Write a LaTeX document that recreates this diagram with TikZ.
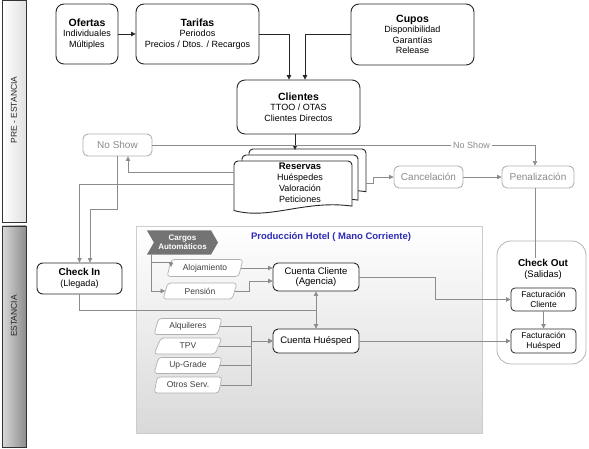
\documentclass[tikz,border=0pt]{standalone}
\usepackage{fontspec}
\setmainfont{Liberation Sans}
\usetikzlibrary{arrows.meta,shapes.geometric,shapes.symbols,calc}

\definecolor{lineGray}{HTML}{8C8C8C}
\definecolor{boxGray}{HTML}{B0B0B0}
\definecolor{txtGray}{HTML}{8A8A8A}
\definecolor{prodBlue}{HTML}{2B2BB5}

\newcommand{\hd}[1]{{\fontsize{10.5}{12}\selectfont\bfseries #1}}
% x0, y0, width, height of one page of the Reservas stack
\newcommand{\resPage}[4]{%
  \draw[pageLine] ({#1},{#2+0.9*#4}) {[rounded corners=4pt] -- ({#1},{#2}) -- ({#1+#3},{#2})} -- ({#1+#3},{#2+0.82*#4})
    .. controls ({#1+0.6*#3},{#2+0.7*#4}) and ({#1+0.3*#3},{#2+1.08*#4}) .. cycle;}

\begin{document}
\begin{tikzpicture}[x=1pt, y=-1pt,
rectMain/.style={rectangle, draw=black!85, line width=0.9pt, fill=white, rounded corners=8pt, align=center, inner sep=0pt, font=\fontsize{9}{10.5}\selectfont},
rectAcc/.style={rectangle, draw=black!85, line width=0.9pt, fill=white, rounded corners=5pt, align=center, inner sep=0pt, font=\fontsize{9.5}{10.5}\selectfont},
rectGray/.style={rectangle, draw=boxGray, line width=0.9pt, fill=white, rounded corners=5pt, align=center, inner sep=0pt, text=txtGray, font=\fontsize{10}{12}\selectfont},
rectFact/.style={rectangle, draw=black!85, line width=0.8pt, fill=white, rounded corners=4pt, align=center, inner sep=0pt, minimum width=65, font=\fontsize{8.5}{10}\selectfont},
dataBox/.style={trapezium, trapezium left angle=70, trapezium right angle=110, trapezium stretches=true, draw=boxGray, line width=0.7pt, fill=white, rounded corners=3pt, inner sep=0pt, text=black!75, font=\fontsize{8.5}{10}\selectfont},
pageLine/.style={draw=black!85, line width=0.9pt, fill=white},
bandBox/.style={rectangle, draw=black!80, line width=0.8pt, minimum width=24, inner sep=0pt},
arrBlack/.style={draw=black!85, line width=0.8pt, -{Triangle[length=4.5pt,width=4.5pt]}},
arrGray/.style={draw=lineGray, line width=0.7pt, -{Triangle[length=4.5pt,width=4.5pt]}},
lineGray/.style={draw=lineGray, line width=0.7pt}
]
\useasboundingbox (0,0) rectangle (589,449);

% phases
\node[bandBox, minimum height=222, left color=white, right color=black!12] (prePhase) at (14,111) {};
\node[bandBox, minimum height=221, left color=black!15, right color=black!45] (stayPhase) at (14,336.5) {};
\node[rotate=90, font=\fontsize{8.5}{10}\selectfont, text=black!85] (preLabel) at (14,110) {PRE - ESTANCIA};
\node[rotate=90, font=\fontsize{8.5}{10}\selectfont, text=black!85] (stayLabel) at (14,316) {ESTANCIA};

% pre-stay
\node[rectMain, minimum width=62, minimum height=60] (ofertas) at (87,34) {\hd{Ofertas}\\Individuales\\Múltiples};
\node[rectMain, minimum width=123, minimum height=60] (tarifas) at (197.5,34) {\hd{Tarifas}\\Periodos\\Precios / Dtos. / Recargos};
\node[rectMain, minimum width=123, minimum height=61] (cupos) at (412.5,34.5) {\hd{Cupos}\\Disponibilidad\\Garantías\\Release};
\node[rectMain, minimum width=123, minimum height=54] (clientes) at (298.5,107) {\hd{Clientes}\\TTOO / OTAS\\Clientes Directos};

\node[rectGray, minimum width=69, minimum height=22] (noshow) at (117.5,145) {No Show};
\node[rectGray, minimum width=69, minimum height=22] (cancel) at (428.5,177) {Cancelación};
\node[rectGray, minimum width=72, minimum height=22] (penal) at (538,177) {Penalización};

\resPage{249}{149}{117}{52}
\resPage{242}{155}{116}{55}
\resPage{234}{161}{118}{55}
\node[minimum width=132, minimum height=66, inner sep=0pt, align=center, font=\fontsize{9}{11}\selectfont] (reservas) at (300,183) {{\fontsize{9.5}{11}\selectfont\bfseries Reservas}\\Huéspedes\\Valoración\\Peticiones};

% stay
\node[rectangle, draw=black!20, top color=white, bottom color=black!15, minimum width=346, minimum height=207, inner sep=0pt] (prodHotel) at (309,329.5) {};
\node[text=prodBlue, font=\fontsize{9.5}{11}\selectfont\bfseries] (prodTitle) at (331,237) {Producción Hotel ( Mano Corriente)};

\node[signal, signal to=east, signal from=west, signal pointer angle=120, fill=black!55, minimum width=71, minimum height=24, inner sep=0pt, align=center, text=white, font=\fontsize{8}{9}\selectfont\bfseries] (cargos) at (182.5,242.5) {Cargos\\Automáticos};
\node[dataBox, minimum width=76, minimum height=17] (aloj) at (205,268) {Alojamiento};
\node[dataBox, minimum width=74, minimum height=16] (pension) at (200,291) {Pensión};
\node[dataBox, minimum width=68, minimum height=16] (alq) at (188,326.5) {Alquileres};
\node[dataBox, minimum width=68, minimum height=16] (tpv) at (188,346) {TPV};
\node[dataBox, minimum width=68, minimum height=16] (upg) at (188,365.5) {Up-Grade};
\node[dataBox, minimum width=68, minimum height=16] (otros) at (188,385) {Otros Serv.};

\node[rectAcc, minimum width=86, minimum height=28] (cuentaC) at (316,277) {Cuenta Cliente\\(Agencia)};
\node[rectAcc, minimum width=86, minimum height=24] (cuentaH) at (316,341) {Cuenta Huésped};

\node[rectMain, rounded corners=6pt, minimum width=85, minimum height=31] (checkin) at (79.5,278.5) {{\fontsize{10}{11}\selectfont\bfseries Check In}\\(Llegada)};

\node[rectangle, draw=black!30, line width=0.8pt, rounded corners=14pt, minimum width=89, minimum height=123] (checkout) at (541.5,302.5) {};
\node[align=center, inner sep=1pt, font=\fontsize{9.5}{11}\selectfont] (checkoutLabel) at (543,269) {{\fontsize{10}{11}\selectfont\bfseries Check Out}\\(Salidas)};
\node[rectFact, minimum height=23] (factC) at (543.5,299.5) {Facturación\\Cliente};
\node[rectFact, minimum height=24] (factH) at (543.5,341) {Facturación\\Huésped};

\coordinate (alojIn) at (171,267);
\coordinate (midAcc) at ($(cuentaC.south)!0.5!(cuentaH.north)$);
\coordinate (bus) at (251,341);

% connectors
\draw[arrBlack] (ofertas) -- (tarifas);
\draw[arrBlack] (tarifas.east) -| ([xshift=-9.5pt]clientes.north);
\draw[arrBlack] (cupos.west) -| ([xshift=6.5pt]clientes.north);
\draw[arrBlack] ([xshift=-3.5pt]clientes.south) -- ([xshift=-5pt]reservas.north);

\draw[arrGray] (noshow.east) -| node[pos=0.417, fill=white, inner sep=2pt, text=txtGray, font=\fontsize{9}{10}\selectfont] {No Show} ([xshift=-3pt]penal.north);
\draw[arrGray] ([yshift=11pt]reservas.west) -| ([xshift=10.5pt]noshow.south);
\draw[arrGray] ([yshift=-1pt]reservas.west) -| (checkin.north);
\draw[arrGray] (noshow.south) -- ++(0,53) -| ([xshift=10.5pt]checkin.north);
\draw[arrGray] (reservas.east) -- ++(7,0) |- (cancel.west);
\draw[arrGray] (cancel) -- (penal);
\draw[lineGray] ([xshift=-3pt]penal.south) -- ([xshift=-3pt]penal.south |- checkoutLabel.north);

\draw[arrGray] ([xshift=-31.5pt]cargos.south) |- ([yshift=5pt]alojIn) -- (alojIn);
\draw[arrGray] ([xshift=-31.5pt]cargos.south) |- (pension.west);
\draw[arrGray] (aloj.east) -- (aloj.east -| cuentaC.west);
\draw[arrGray] (pension.east) -- ++(14,0) |- ([yshift=-4pt]cuentaC.west);
\foreach \item in {alq,tpv,upg,otros}
  \draw[arrGray] (\item.east) -| (bus) -- (cuentaH.west);
\draw[lineGray] (checkin.south) |- (midAcc);
\draw[arrGray, {Triangle[length=4.5pt,width=4.5pt]}-{Triangle[length=4.5pt,width=4.5pt]}] (cuentaC.south) -- (cuentaH.north);

\draw[arrGray] (cuentaC.east) -- ++(76,0) |- (factC.west);
\draw[arrGray] (cuentaH.east) -- (factH.west);
\draw[arrGray] (factC.south) -- (factH.north);

\end{tikzpicture}
\end{document}
